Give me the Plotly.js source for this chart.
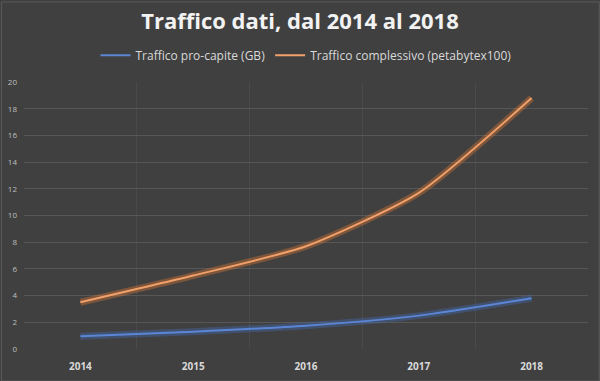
<!DOCTYPE html>
<html>
<head>
<meta charset="utf-8">
<script src="https://cdn.plot.ly/plotly-3.0.1.min.js"></script>
<style>html,body{margin:0;padding:0;background:#404040;}#chart{width:600px;height:381px;}</style>
</head>
<body>
<div id="chart"></div>
<script>
const years = ["2014", "2015", "2016", "2017", "2018"];
const proCapite = [0.95, 1.3, 1.75, 2.5, 3.8];
const complessivo = [3.5, 5.5, 7.7, 11.7, 18.8];
const seriesNames = ["Traffico pro-capite (GB)", "Traffico complessivo (petabytex100)"];
const yTicks = [0, 2, 4, 6, 8, 10, 12, 14, 16, 18, 20];

function glow(y, color) {
  return {x: years, y: y, type: "scatter", mode: "lines", line: {shape: "spline", smoothing: 0.6, color: color, width: 7},
          hoverinfo: "skip", showlegend: false};
}
const traces = [
  glow(proCapite, "rgba(68,114,196,0.35)"),
  glow(complessivo, "rgba(237,125,49,0.35)"),
  {x: years, y: proCapite, name: seriesNames[0], type: "scatter", mode: "lines",
   line: {shape: "spline", smoothing: 0.6, color: "#5b86d6", width: 2}},
  {x: years, y: complessivo, name: seriesNames[1], type: "scatter", mode: "lines",
   line: {shape: "spline", smoothing: 0.6, color: "#f2a06a", width: 2}}
];
const layout = {
  width: 600, height: 381,
  paper_bgcolor: "#404040", plot_bgcolor: "#404040",
  margin: {l: 24, r: 12, t: 82, b: 32},
  title: {text: "<b>Traffico dati, dal 2014 al 2018</b>", x: 0.5, xanchor: "center", y: 0.945, yanchor: "middle",
          font: {family: "Open Sans, Liberation Sans, sans-serif", size: 22, color: "#f2f2f2"}},
  showlegend: true,
  legend: {orientation: "h", x: 0.5, xanchor: "center", y: 1.1, yanchor: "middle",
           font: {family: "Open Sans, Liberation Sans, sans-serif", size: 12, color: "#d9d9d9"},
           bgcolor: "rgba(0,0,0,0)", itemwidth: 30, traceorder: "normal"},
  xaxis: {type: "category", tickvals: years, ticktext: years.map(y => "<b>" + y + "</b>"),
          range: [-0.5, 4.5], showgrid: true, tickson: "boundaries", gridcolor: "#4a4a4a",
          zeroline: false, showline: false, ticks: "", ticklabelstandoff: 10,
          tickfont: {family: "Open Sans, Liberation Sans, sans-serif", size: 10, color: "#d9d9d9"}},
  yaxis: {range: [0, 20], tickvals: yTicks, showgrid: true, gridcolor: "#575757", gridwidth: 1,
          zeroline: false, showline: false, ticks: "", ticklabelstandoff: 6,
          tickfont: {family: "Open Sans, Liberation Sans, sans-serif", size: 8, color: "#bfbfbf"}},
  shapes: [{type: "rect", xref: "paper", yref: "paper", x0: -0.04, x1: 1.02, y0: -0.12, y1: 1.3,
            line: {color: "#5a5a5a", width: 1}, fillcolor: "rgba(0,0,0,0)", layer: "below"}]
};
Plotly.newPlot("chart", traces, layout, {displayModeBar: false, staticPlot: true});
</script>
</body>
</html>
